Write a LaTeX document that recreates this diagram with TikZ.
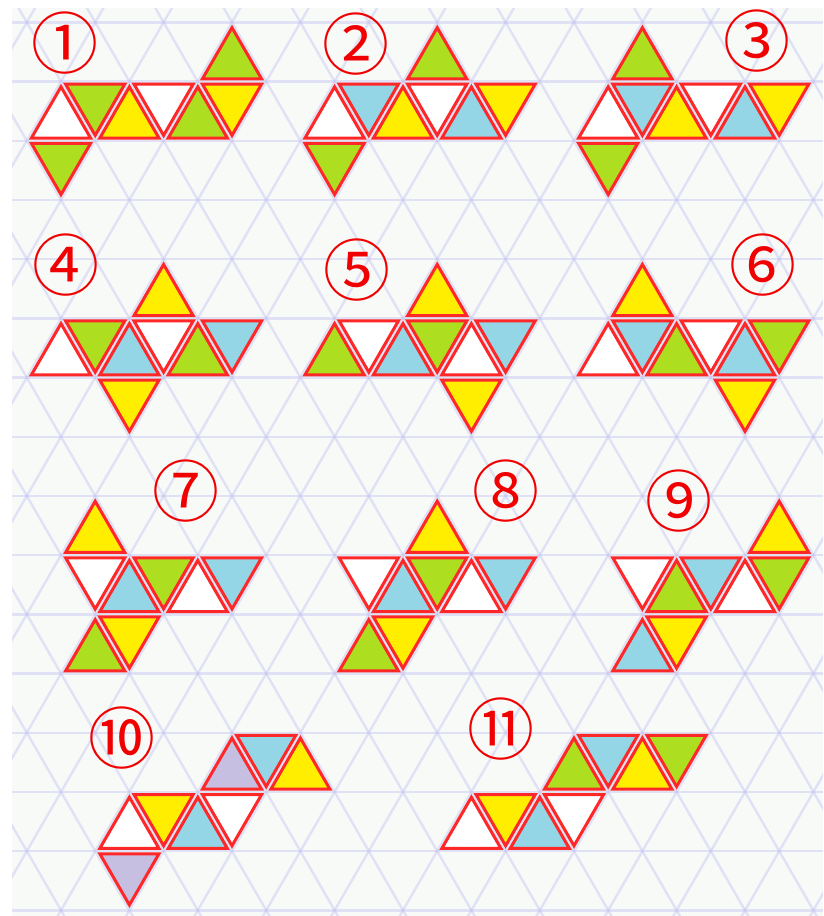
\documentclass[tikz,border=0pt]{standalone}
\usepackage{fontspec}
\newfontfamily\cjk{Noto Sans CJK JP}
\definecolor{cG}{HTML}{ADDE1F}
\definecolor{cY}{HTML}{FFEE00}
\definecolor{cB}{HTML}{94D6E5}
\definecolor{cW}{HTML}{FFFFFF}
\definecolor{cP}{HTML}{C6BFE2}
\definecolor{triedge}{HTML}{FF2828}
\definecolor{labred}{HTML}{F00000}
\definecolor{gridc}{HTML}{C4C4F2}
\definecolor{bgc}{HTML}{F8FAF8}
\tikzset{
  gridline/.style={draw=gridc, line width=2.4pt, opacity=0.45},
  tri/.style={draw=triedge, line width=3pt, line join=miter},
  lab/.style={text=labred, font=\cjk\fontsize{67}{67}\selectfont, inner sep=0pt}
}
\newcommand\ptri[3]{%
  \pgfmathsetmacro\tcx{26.8+34.2*#1}%
  \pgfmathtruncatemacro\tpar{mod(#1+#2,2)}%
  \ifnum\tpar=0
    \pgfmathsetmacro\tcy{22.3+59.2*#2+2*59.2/3}%
    \filldraw[tri, fill=#3, shift={(\tcx,\tcy)}, scale=0.865] (0,-39.467) -- (-34.2,19.733) -- (34.2,19.733) -- cycle;
  \else
    \pgfmathsetmacro\tcy{22.3+59.2*#2+59.2/3}%
    \filldraw[tri, fill=#3, shift={(\tcx,\tcy)}, scale=0.865] (-34.2,-19.733) -- (34.2,-19.733) -- (0,39.467) -- cycle;
  \fi}
\begin{document}
\begin{tikzpicture}[x=1pt,y=-1pt]
\useasboundingbox (0,0) rectangle (823,916);
\fill[white] (0,0) rectangle (823,916);
\begin{scope}
  \clip (12,8) rectangle (823,916);
  \fill[bgc] (12,8) rectangle (823,916);
  \foreach \j in {0,...,15} {
    \draw[gridline] (0,22.3+59.2*\j) -- (830,22.3+59.2*\j);
  }
  \foreach \k in {-10,...,22} {
    \draw[gridline] (26.8+68.4*\k-34.2,22.3-59.2) -- (26.8+68.4*\k+34.2*16,22.3+59.2*16);
    \draw[gridline] (26.8+68.4*\k+34.2,22.3-59.2) -- (26.8+68.4*\k-34.2*16,22.3+59.2*16);
  }
\end{scope}
% nets
\foreach \c/\r/\col in {
  6/0/cG, 1/1/cW, 2/1/cG, 3/1/cY, 4/1/cW, 5/1/cG, 6/1/cY, 1/2/cG,
  12/0/cG, 9/1/cW, 10/1/cB, 11/1/cY, 12/1/cW, 13/1/cB, 14/1/cY, 9/2/cG,
  18/0/cG, 17/1/cW, 18/1/cB, 19/1/cY, 20/1/cW, 21/1/cB, 22/1/cY, 17/2/cG,
  4/4/cY, 1/5/cW, 2/5/cG, 3/5/cB, 4/5/cW, 5/5/cG, 6/5/cB, 3/6/cY,
  12/4/cY, 9/5/cG, 10/5/cW, 11/5/cB, 12/5/cG, 13/5/cW, 14/5/cB, 13/6/cY,
  18/4/cY, 17/5/cW, 18/5/cB, 19/5/cG, 20/5/cW, 21/5/cB, 22/5/cG, 21/6/cY,
  2/8/cY, 2/9/cW, 3/9/cB, 4/9/cG, 5/9/cW, 6/9/cB, 2/10/cG, 3/10/cY,
  12/8/cY, 10/9/cW, 11/9/cB, 12/9/cG, 13/9/cW, 14/9/cB, 10/10/cG, 11/10/cY,
  22/8/cY, 18/9/cW, 19/9/cG, 20/9/cB, 21/9/cW, 22/9/cG, 18/10/cB, 19/10/cY,
  6/12/cP, 7/12/cB, 8/12/cY, 3/13/cW, 4/13/cY, 5/13/cB, 6/13/cW, 3/14/cP,
  16/12/cG, 17/12/cB, 18/12/cY, 19/12/cG, 13/13/cW, 14/13/cY, 15/13/cB, 16/13/cW} {
  \ptri{\c}{\r}{\col}
}
% labels
\node[lab] (n1) at (65,43) {①};
\node[lab] (n2) at (356,44) {②};
\node[lab] (n3) at (757,41) {③};
\node[lab] (n4) at (66,265) {④};
\node[lab] (n5) at (357,270) {⑤};
\node[lab] (n6) at (763,265) {⑥};
\node[lab] (n7) at (186,491) {⑦};
\node[lab] (n8) at (506,491) {⑧};
\node[lab] (n9) at (679,501) {⑨};
\node[lab] (n10) at (122,738) {⑩};
\node[lab] (n11) at (501,729) {⑪};
\end{tikzpicture}
\end{document}
